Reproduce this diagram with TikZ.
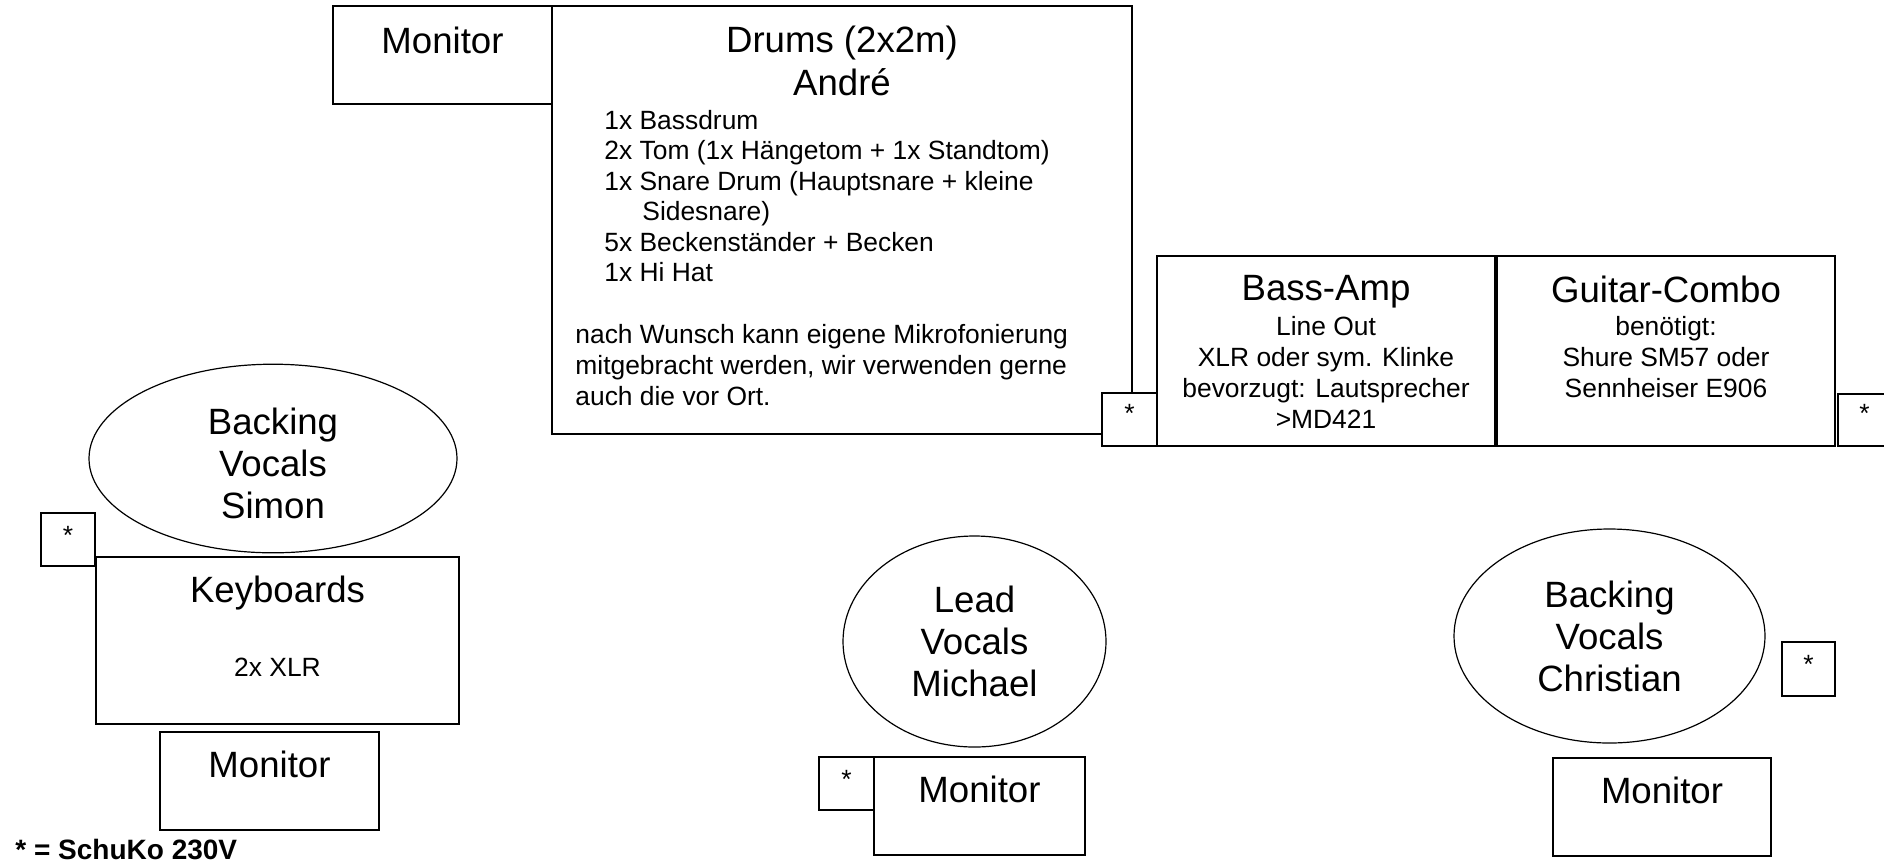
\documentclass[tikz,border=0pt]{standalone}
\usepackage{fontspec}
\setmainfont{Liberation Sans}
\usetikzlibrary{shapes.geometric}
\tikzset{
  box/.style={draw=black, fill=white, line width=0.6pt, inner sep=0pt, outer sep=0pt, rectangle},
  oval/.style={draw=black, fill=white, line width=0.6pt, inner sep=0pt, ellipse, align=center,
    font=\fontsize{18.3}{21}\selectfont},
  ovaltext/.style={inner sep=0pt, align=center, font=\fontsize{18.3}{21}\selectfont},
  title/.style={inner sep=0pt, anchor=base, font=\fontsize{18.3}{21}\selectfont},
  small/.style={inner sep=0pt, anchor=base, font=\fontsize{13.2}{15}\selectfont},
  smallL/.style={small, anchor=base west},
  star/.style={inner sep=0pt, anchor=base, font=\fontsize{13.2}{15}\selectfont},
  legend/.style={inner sep=0pt, anchor=base west, font=\fontsize{14}{16}\selectfont\bfseries},
}
% rectangle node by its corners (x1,y1) (x2,y2), pixel units
\newcommand\pbox[5]{%
  \node[box, anchor=north west, minimum width={(#4-#2)*0.5pt}, minimum height={(#5-#3)*0.5pt}] (#1) at (#2,#3) {};}
\begin{document}
\begin{tikzpicture}[x=0.5pt, y=-0.5pt]
\useasboundingbox (0,0) rectangle (1884,864);

% top monitor and drums
\pbox{montop}{333}{6}{552}{104}
\pbox{drums}{552}{6}{1132}{434}
\node[title] (montopT) at (442.5,53) {Monitor};
\node[title] (drumsT) at (842,52) {Drums (2x2m)};
\node[title] (drumsN) at (842,95) {André};
\node[smallL] (d1) at (604,129.3) {1x Bassdrum};
\node[smallL] (d2) at (604,159.8) {2x Tom (1x Hängetom + 1x Standtom)};
\node[smallL] (d3) at (604,190.3) {1x Snare Drum (Hauptsnare + kleine};
\node[smallL] (d4) at (642,220.8) {Sidesnare)};
\node[smallL] (d5) at (604,251.3) {5x Beckenständer + Becken};
\node[smallL] (d6) at (604,281.8) {1x Hi Hat};
\node[smallL] (p1) at (575,343.3) {nach Wunsch kann eigene Mikrofonierung};
\node[smallL] (p2) at (575,374.3) {mitgebracht werden, wir verwenden gerne};
\node[smallL] (p3) at (575,405.3) {auch die vor Ort.};

% bass amp and guitar combo
\pbox{bass}{1157}{256}{1495}{446}
\pbox{guitar}{1497}{256}{1835}{446}
\pbox{starbass}{1102}{393}{1157}{446}
\pbox{starguit}{1838}{394}{1891}{446}
\node[star] (starbassT) at (1129.5,422) {*};
\node[star] (starguitT) at (1864.5,422) {*};
\node[title] (bassT) at (1326,300) {Bass-Amp};
\node[small] (b1) at (1326,335) {Line Out};
\node[small] (b2) at (1326,366.2) {XLR oder sym. Klinke};
\node[small] (b3) at (1326,397.4) {bevorzugt: Lautsprecher};
\node[small] (b4) at (1326,428.6) {>MD421};
\node[title] (guitT) at (1666,302) {Guitar-Combo};
\node[small] (g1) at (1666,335) {benötigt:};
\node[small] (g2) at (1666,366.2) {Shure SM57 oder};
\node[small] (g3) at (1666,397.4) {Sennheiser E906};

% left: Simon, keyboards
\node[oval, minimum width=184pt, minimum height=94.3pt] (simon) at (273,458.5) {};
\node[ovaltext] (simonT) at (273,463) {Backing\\Vocals\\Simon};
\pbox{starkey}{41}{513}{95}{566}
\node[star] (starkeyT) at (68,544) {*};
\pbox{keys}{96}{557}{459}{724}
\node[title] (keysT) at (277.5,602) {Keyboards};
\node[small] (keysS) at (277.5,676) {2x XLR};
\pbox{monkey}{160}{732}{379}{830}
\node[title] (monkeyT) at (269.5,777) {Monitor};

% middle: Michael
\node[oval, minimum width=131.5pt, minimum height=105.5pt] (michael) at (974.5,641.5) {Lead\\Vocals\\Michael};
\pbox{starlead}{819}{757}{874}{810}
\node[star] (starleadT) at (846.5,788) {*};
\pbox{monlead}{874}{757}{1085}{855}
\node[title] (monleadT) at (979.5,802) {Monitor};

% right: Christian
\node[oval, minimum width=155.5pt, minimum height=107pt] (christian) at (1609.5,636) {Backing\\Vocals\\Christian};
\pbox{starchr}{1782}{642}{1835}{696}
\node[star] (starchrT) at (1808.5,673) {*};
\pbox{monchr}{1553}{758}{1771}{856}
\node[title] (monchrT) at (1662,803) {Monitor};

% legend
\node[legend] (legend) at (15,859) {* = SchuKo 230V};
\end{tikzpicture}
\end{document}
